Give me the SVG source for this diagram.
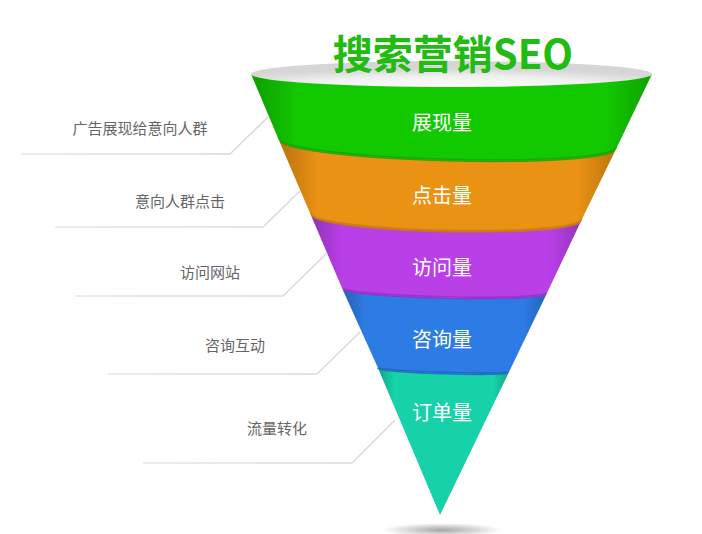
<svg xmlns="http://www.w3.org/2000/svg" width="702" height="534" viewBox="0 0 702 534">
  <defs>
    <style>
      .band-label { font-family: "Noto Sans CJK SC", "Noto Sans", sans-serif; font-size: 20px; fill: #ffffff; text-anchor: middle; }
      .side-label { font-family: "Noto Sans CJK SC", "Noto Sans", sans-serif; font-size: 15px; fill: #666666; text-anchor: middle; }
      .title { font-family: "Noto Sans CJK SC", "Noto Sans", sans-serif; font-size: 40px; font-weight: bold; fill: #22bb11; text-anchor: middle; }
      .conn { fill: none; stroke: url(#lineGrad); stroke-width: 1.5; }
      .edge-shade { fill: url(#edgeShade); }
      .seam { fill: none; stroke-width: 3; }
    </style>
    <linearGradient id="lineGrad" x1="0" y1="0" x2="1" y2="0">
      <stop offset="0" stop-color="#e6e6e6"/>
      <stop offset="1" stop-color="#d8d8d8"/>
    </linearGradient>
    <linearGradient id="edgeShade" x1="0" y1="0" x2="1" y2="0">
      <stop offset="0" stop-color="#000" stop-opacity="0.22"/>
      <stop offset="0.12" stop-color="#000" stop-opacity="0"/>
      <stop offset="0.88" stop-color="#000" stop-opacity="0"/>
      <stop offset="1" stop-color="#000" stop-opacity="0.2"/>
    </linearGradient>
    <radialGradient id="topGrad" cx="0.5" cy="0.9" r="0.6" fx="0.5" fy="1">
      <stop offset="0" stop-color="#ffffff"/>
      <stop offset="0.6" stop-color="#f0f0f0"/>
      <stop offset="1" stop-color="#d6d6d6"/>
    </radialGradient>
    <radialGradient id="shadowGrad" cx="0.5" cy="0.5" r="0.5">
      <stop offset="0" stop-color="#000" stop-opacity="0.35"/>
      <stop offset="1" stop-color="#000" stop-opacity="0"/>
    </radialGradient>
    <clipPath id="funnelClip">
      <path d="M251,74 A200.5,13 0 0 0 652,74 L440,515 Z"/>
    </clipPath>
  </defs>

  <rect width="702" height="534" fill="#ffffff"/>

  <!-- bottom shadow -->
  <ellipse cx="442" cy="530" rx="60" ry="7" fill="url(#shadowGrad)"/>

  <!-- funnel top opening -->
  <ellipse id="funnel-top" cx="451.5" cy="74" rx="200.5" ry="13" fill="url(#topGrad)"/>

  <g id="title">
    <text class="title" x="453" y="69">搜索营销SEO</text>
  </g>

  <g id="band-1">
    <path d="M251,74 A200.5,13 0 0 0 652,74 L617,147 C617,170.3 278,161.3 278,138 Z" fill="#12c900"/>
    <path class="edge-shade" d="M251,74 A200.5,13 0 0 0 652,74 L617,147 C617,170.3 278,161.3 278,138 Z"/>
    <text class="band-label" x="442" y="130">展现量</text>
  </g>
  <g id="band-2">
    <path d="M278,138 C278,161.3 617,170.3 617,147 L582,219 C582,239 310,233 310,213 Z" fill="#ea9213"/>
    <path class="edge-shade" d="M278,138 C278,161.3 617,170.3 617,147 L582,219 C582,239 310,233 310,213 Z"/>
    <text class="band-label" x="442" y="203">点击量</text>
  </g>
  <g id="band-3">
    <path d="M310,213 C310,233 582,239 582,219 L547,293 C547,302.3 342,297.3 342,288 Z" fill="#b93fe7"/>
    <path class="edge-shade" d="M310,213 C310,233 582,239 582,219 L547,293 C547,302.3 342,297.3 342,288 Z"/>
    <text class="band-label" x="442" y="275">访问量</text>
  </g>
  <g id="band-4">
    <path d="M342,288 C342,297.3 547,302.3 547,293 L509,372 C509,376 378,372 378,368 Z" fill="#2d7ce6"/>
    <path class="edge-shade" d="M342,288 C342,297.3 547,302.3 547,293 L509,372 C509,376 378,372 378,368 Z"/>
    <text class="band-label" x="442" y="347">咨询量</text>
  </g>
  <g id="band-5">
    <path d="M378,368 C378,372 509,376 509,372 L440,515 Z" fill="#17d1a9"/>
    <path class="edge-shade" d="M378,368 C378,372 509,376 509,372 L440,515 Z"/>
    <text class="band-label" x="442" y="420">订单量</text>
  </g>

  <!-- seams between bands -->
  <g id="seams" clip-path="url(#funnelClip)">
    <path class="seam" d="M278,138 C278,161.3 617,170.3 617,147" stroke="#0aa800" stroke-opacity="0.8"/>
    <path class="seam" d="M310,213 C310,233 582,239 582,219" stroke="#c97a08" stroke-opacity="0.8"/>
    <path class="seam" d="M342,288 C342,297.3 547,302.3 547,293" stroke="#9a2ccb" stroke-opacity="0.8"/>
    <path class="seam" d="M378,368 C378,372 509,376 509,372" stroke="#1f5fc4" stroke-opacity="0.8"/>
  </g>

  <g id="connectors">
    <path class="conn" d="M22,154 H230 L268,117"/>
    <path class="conn" d="M55,227 H263 L300,191"/>
    <path class="conn" d="M75,296 H283 L327,253"/>
    <path class="conn" d="M108,374 H317 L360,332"/>
    <path class="conn" d="M143,463 H352 L395,420"/>
  </g>

  <g id="label-1"><text class="side-label" x="140" y="133.5">广告展现给意向人群</text></g>
  <g id="label-2"><text class="side-label" x="180" y="206.5">意向人群点击</text></g>
  <g id="label-3"><text class="side-label" x="210" y="277.5">访问网站</text></g>
  <g id="label-4"><text class="side-label" x="235" y="350.5">咨询互动</text></g>
  <g id="label-5"><text class="side-label" x="277" y="433.5">流量转化</text></g>
</svg>
